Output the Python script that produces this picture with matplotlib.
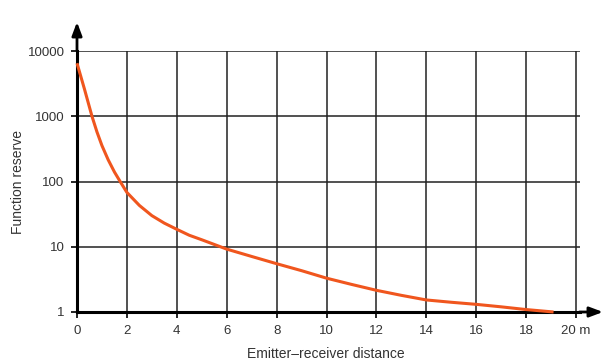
import numpy as np
import matplotlib.pyplot as plt
from matplotlib.ticker import FixedLocator, NullLocator

plt.rcParams['font.family'] = ['Liberation Sans', 'DejaVu Sans']

# values
distance = [0, 0.3, 0.6, 0.8, 1, 1.25, 1.5, 1.75, 2, 2.5, 3, 3.5, 4, 4.5, 5,
            6, 7, 8, 9, 10, 11, 12, 13, 14, 15, 16, 17, 18, 19.1]
reserve = [6500, 2600, 1000, 575, 355, 215, 140, 97, 68, 43, 30, 23, 18.5,
           15, 12.8, 9.2, 7.1, 5.5, 4.3, 3.3, 2.65, 2.15, 1.8, 1.53, 1.41,
           1.31, 1.2, 1.09, 1.0]

x_ticks = [0, 2, 4, 6, 8, 10, 12, 14, 16, 18, 20]
x_labels = ['0', '2', '4', '6', '8', '10', '12', '14', '16', '18', '20 m']
y_ticks = [1, 10, 100, 1000, 10000]
y_labels = ['1', '10', '100', '1000', '10000']

W, H = 603, 364
fig = plt.figure(figsize=(W / 100, H / 100), dpi=100)
left, right, bottom, top = 77, 580, 312, 51
ax = fig.add_axes([left / W, 1 - bottom / H, (right - left) / W, (bottom - top) / H])

ax.set_yscale('log')
ax.set_xlim(0, 20 * (right - left) / (576 - left))
ax.set_ylim(1, 10000)

ax.xaxis.set_major_locator(FixedLocator(x_ticks))
ax.set_xticklabels(x_labels)
ax.yaxis.set_major_locator(FixedLocator(y_ticks))
ax.yaxis.set_minor_locator(NullLocator())
ax.set_yticklabels(y_labels)

ax.grid(True, color='#222222', linewidth=1.1)
ax.set_axisbelow(True)

for s in ['top', 'right']:
    ax.spines[s].set_visible(False)
for s in ['left', 'bottom']:
    ax.spines[s].set_linewidth(2.2)
    ax.spines[s].set_color('black')

ax.tick_params(axis='both', length=4, width=1.2, color='black',
               labelsize=9.5, labelcolor='#333333', pad=5)

ax.plot(distance, reserve, color='#F0561E', linewidth=2.2, solid_capstyle='butt',
        solid_joinstyle='round', clip_on=False, zorder=5)

# arrowheads extending the axes
ax.annotate('', xy=(603 / W, 1 - bottom / H), xytext=(right / W - 0.001, 1 - bottom / H),
            xycoords='figure fraction',
            arrowprops=dict(arrowstyle='-|>,head_length=0.8,head_width=0.3',
                            color='black', lw=2.0, shrinkA=0, shrinkB=0))
ax.annotate('', xy=(left / W, 1 - 22 / H), xytext=(left / W, 1 - top / H + 0.001),
            xycoords='figure fraction',
            arrowprops=dict(arrowstyle='-|>,head_length=0.8,head_width=0.3',
                            color='black', lw=2.0, shrinkA=0, shrinkB=0))

fig.text(18 / W, 1 - 182 / H, 'Function reserve', rotation=90, ha='center',
         va='center', fontsize=10, color='#333333')
fig.text(326 / W, 1 - 354 / H, 'Emitter\u2013receiver distance', ha='center',
         va='center', fontsize=10, color='#333333')

fig.savefig('out.png', dpi=100)
